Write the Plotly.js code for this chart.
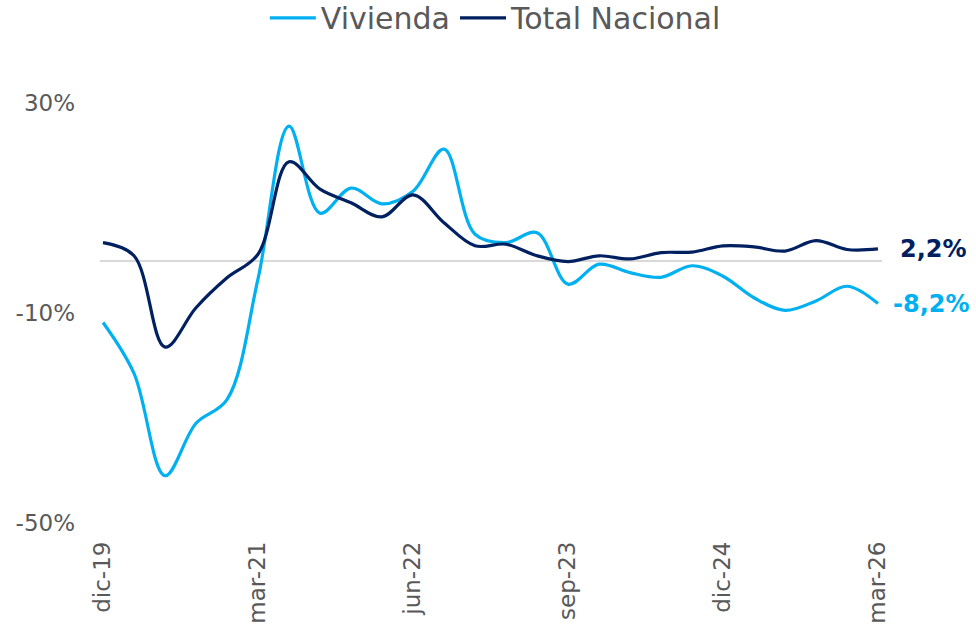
<!DOCTYPE html>
<html>
<head>
<meta charset="utf-8">
<script src="https://cdn.plot.ly/plotly-3.0.1.min.js"></script>
<style>
html,body{margin:0;padding:0;background:#fff;}
#chart{width:976px;height:635px;}
</style>
</head>
<body>
<div id="chart"></div>
<script>
// Quarterly periods, dic-19 .. mar-26
var periods = ["dic-19","mar-20","jun-20","sep-20","dic-20","mar-21","jun-21","sep-21","dic-21","mar-22","jun-22","sep-22","dic-22","mar-23","jun-23","sep-23","dic-23","mar-24","jun-24","sep-24","dic-24","mar-25","jun-25","sep-25","dic-25","mar-26"];
var vivienda = [-11.8,-21.5,-41,-31,-26.5,-3.5,25.6,9,13.8,10.8,13.2,21.2,5,3.4,5.3,-4.5,-0.7,-2.3,-3.2,-1.0,-3.0,-7.1,-9.5,-7.7,-4.9,-8.2];
var totalNacional = [3.4,0.9,-16.5,-9,-3.3,1.2,18.8,13.6,11,8.3,12.5,7.2,2.8,3.1,0.9,-0.2,0.9,0.3,1.5,1.6,2.8,2.6,1.8,3.8,2.1,2.2];
var tickLabels = ["dic-19","mar-21","jun-22","sep-23","dic-24","mar-26"];
var yTickVals = [30,-10,-50];
var yTickText = ["30%","-10%","-50%"];
var endLabels = ["2,2%","-8,2%"];

var idx = periods.map(function(_, i){ return i; });
var tickIdx = tickLabels.map(function(t){ return periods.indexOf(t); });

var font = "DejaVu Sans, sans-serif";
var cLight = "#00b0f0", cDark = "#002060";

var traces = [
  {x: idx, y: vivienda, name: "Vivienda", type: "scatter", mode: "lines",
   line: {color: cLight, width: 3.2, shape: "spline", smoothing: 1}},
  {x: idx, y: totalNacional, name: "Total Nacional", type: "scatter", mode: "lines",
   line: {color: cDark, width: 3.2, shape: "spline", smoothing: 1}}
];

var last = periods.length - 1;
var layout = {
  width: 976, height: 635,
  margin: {l: 100, r: 94, t: 103, b: 112},
  paper_bgcolor: "#fff", plot_bgcolor: "#fff",
  showlegend: true,
  legend: {orientation: "h", x: 0.508, xanchor: "center", xref: "container",
           y: 0.972, yanchor: "middle", yref: "container",
           font: {family: font, size: 30, color: "#595959"},
           itemwidth: 46, tracegroupgap: 0},
  xaxis: {range: [-0.097, 25.13], tickmode: "array", tickvals: tickIdx, ticktext: tickLabels,
          tickangle: -90, showgrid: false, zeroline: false, showline: false,
          ticks: "", ticklabelstandoff: 13,
          tickfont: {family: font, size: 23, color: "#595959"}},
  yaxis: {range: [-50, 30], tickmode: "array", tickvals: yTickVals, ticktext: yTickText,
          showgrid: false, zeroline: true, zerolinecolor: "#d9d9d9", zerolinewidth: 2,
          showline: false, ticks: "", ticklabelstandoff: 24,
          tickfont: {family: font, size: 23, color: "#595959"}},
  annotations: [
    {x: last, y: totalNacional[last], xref: "x", yref: "y", text: "<b>" + endLabels[0] + "</b>",
     showarrow: false, xanchor: "left", yanchor: "middle", xshift: 20,
     font: {family: font, size: 24, color: cDark}},
    {x: last, y: vivienda[last], xref: "x", yref: "y", text: "<b>" + endLabels[1] + "</b>",
     showarrow: false, xanchor: "left", yanchor: "middle", xshift: 13,
     font: {family: font, size: 24, color: cLight}}
  ]
};

Plotly.newPlot("chart", traces, layout, {displayModeBar: false, staticPlot: true});
</script>
</body>
</html>
